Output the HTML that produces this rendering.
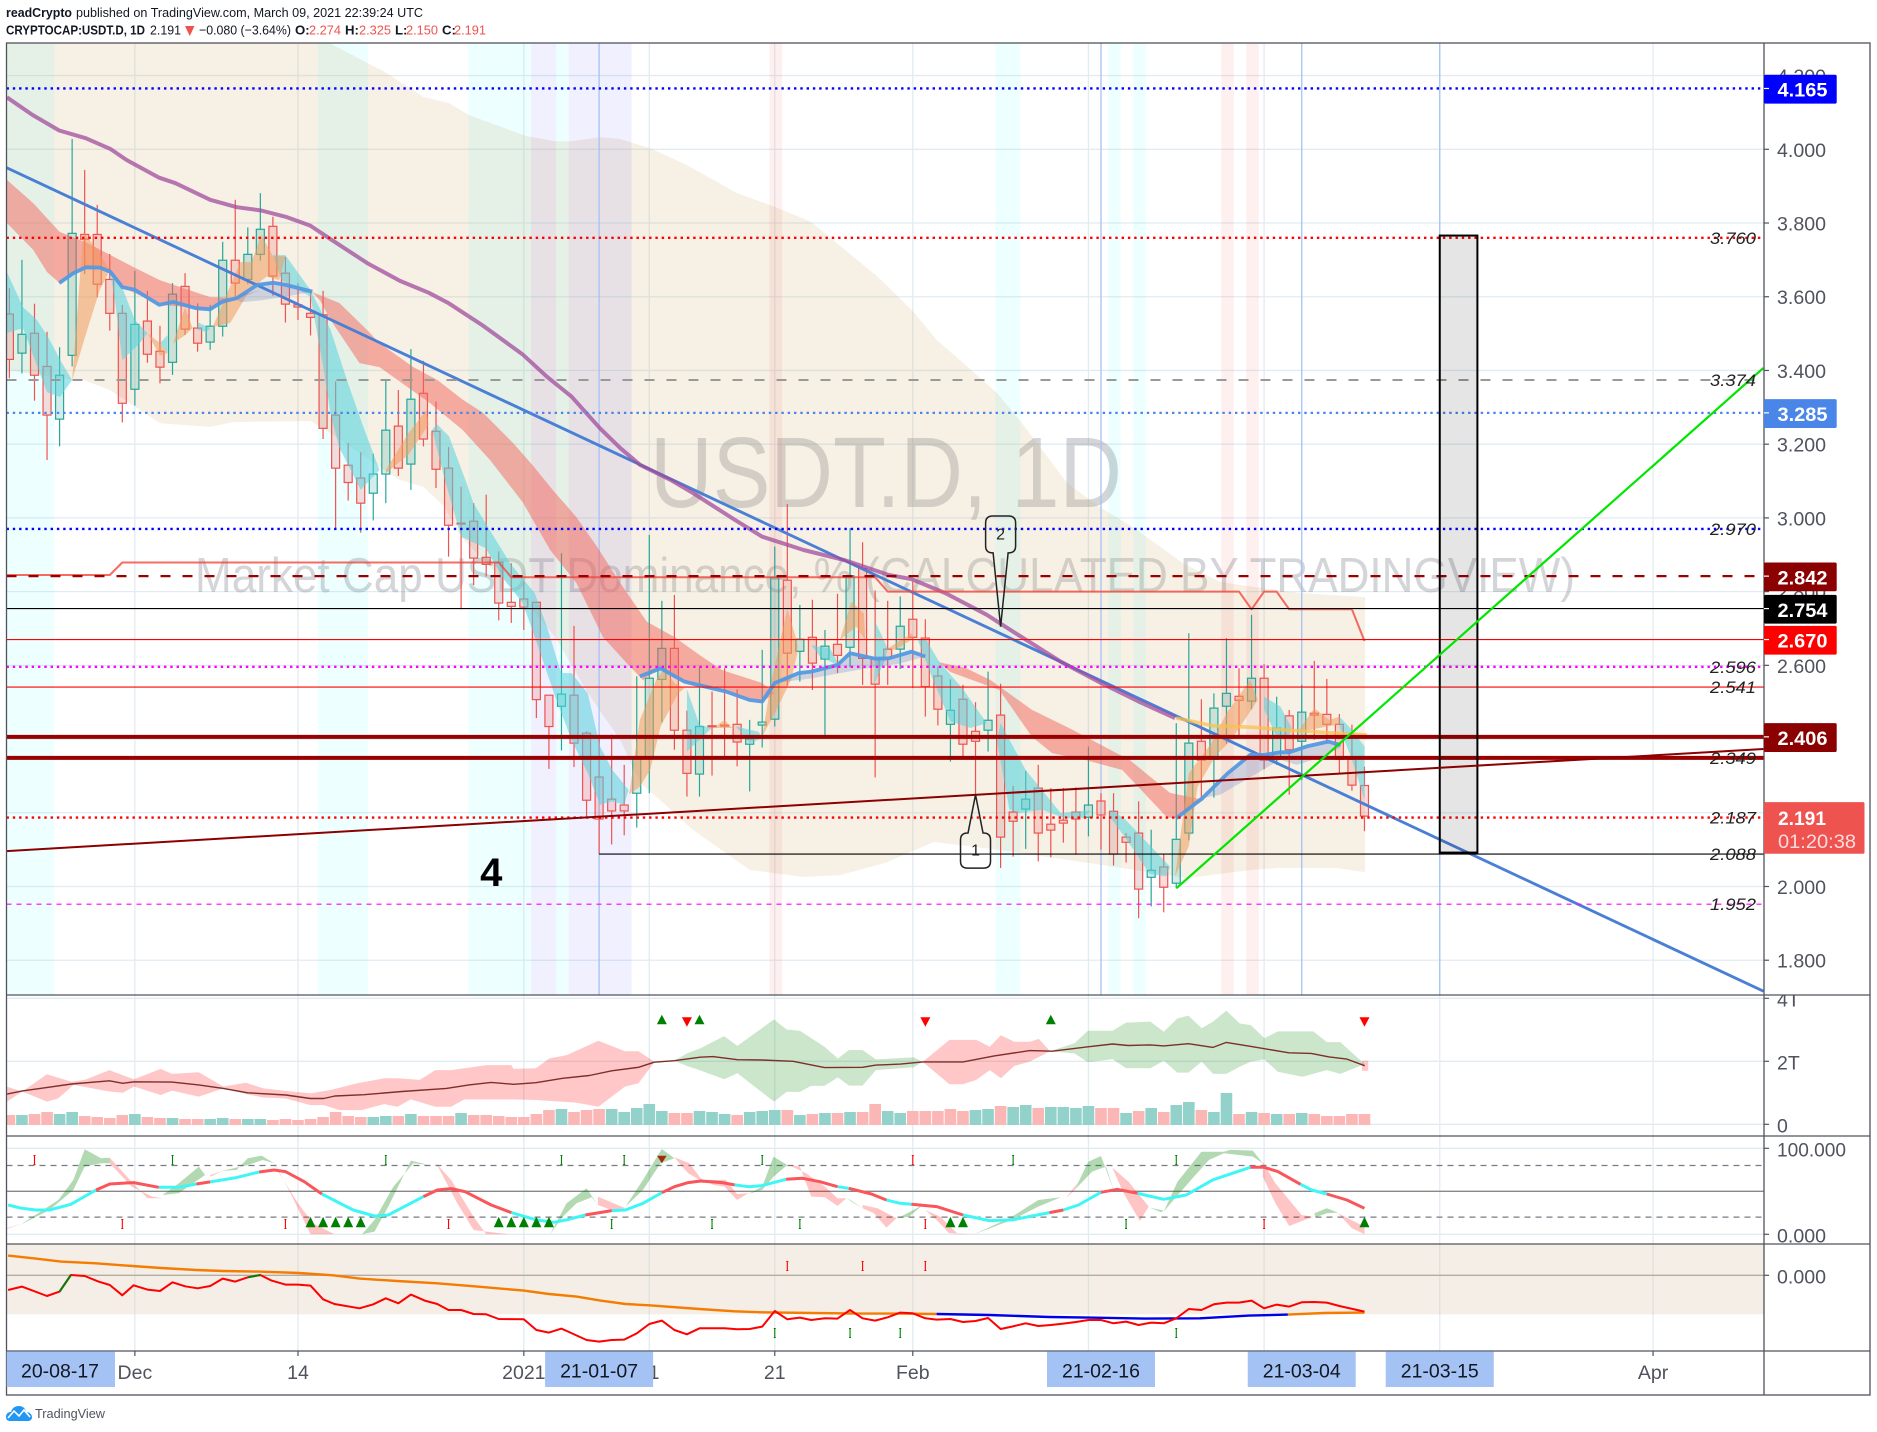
<!DOCTYPE html>
<html lang="en">
<head>
<meta charset="utf-8">
<title>USDT.D 1D chart</title>
<style>
html,body{margin:0;padding:0;background:#fff;}
svg{display:block;font-family:"Liberation Sans",sans-serif;}
</style>
</head>
<body>
<svg id="chart" xmlns="http://www.w3.org/2000/svg" width="1877" height="1432" viewBox="0 0 1877 1432">
  <defs>
    <clipPath id="clipMain"><rect x="6.5" y="43" width="1757.5" height="952"/></clipPath>
    <clipPath id="clipFlow"><rect x="6.5" y="995" width="1757.5" height="141"/></clipPath>
    <clipPath id="clipOsc"><rect x="6.5" y="1136" width="1757.5" height="108"/></clipPath>
    <clipPath id="clipMom"><rect x="6.5" y="1244" width="1757.5" height="107"/></clipPath>
    <clipPath id="clipFlowAxis"><rect x="1764" y="995" width="106" height="141"/></clipPath>
    <clipPath id="clipMainAxis"><rect x="1764" y="43" width="106" height="952"/></clipPath>
  </defs>
  <rect x="0" y="0" width="1877" height="1432" fill="#ffffff"/>

  <g font-size="13.2" fill="#131722">
    <text x="6" y="17" font-weight="700" textLength="66" lengthAdjust="spacingAndGlyphs">readCrypto</text>
    <text x="76" y="17" textLength="347" lengthAdjust="spacingAndGlyphs">published on TradingView.com, March 09, 2021 22:39:24 UTC</text>
    <text x="6" y="34.5" font-weight="700" textLength="139" lengthAdjust="spacingAndGlyphs">CRYPTOCAP:USDT.D, 1D</text>
    <text x="150" y="34.5" textLength="31" lengthAdjust="spacingAndGlyphs">2.191</text>
    <polygon points="185,26 194.5,26 189.8,36" fill="#ef5350"/>
    <text x="199" y="34.5" textLength="92" lengthAdjust="spacingAndGlyphs">−0.080 (−3.64%)</text>
    <text x="295" y="34.5" font-weight="700">O:</text>
    <text x="309" y="34.5" fill="#ef5350" textLength="32" lengthAdjust="spacingAndGlyphs">2.274</text>
    <text x="345" y="34.5" font-weight="700">H:</text>
    <text x="359" y="34.5" fill="#ef5350" textLength="32" lengthAdjust="spacingAndGlyphs">2.325</text>
    <text x="395" y="34.5" font-weight="700">L:</text>
    <text x="406" y="34.5" fill="#ef5350" textLength="32" lengthAdjust="spacingAndGlyphs">2.150</text>
    <text x="442" y="34.5" font-weight="700">C:</text>
    <text x="454" y="34.5" fill="#ef5350" textLength="32" lengthAdjust="spacingAndGlyphs">2.191</text>
  </g>

  <g id="gridLayer"></g>

  <g clip-path="url(#clipMain)">
    <text x="650" y="507" font-size="100" fill="#787b86" fill-opacity="0.32" textLength="472" lengthAdjust="spacingAndGlyphs">USDT.D, 1D</text>
    <text x="195" y="592" font-size="49" fill="#787b86" fill-opacity="0.32" textLength="1380" lengthAdjust="spacingAndGlyphs">Market Cap USDT Dominance, % (CALCULATED BY TRADINGVIEW)</text>
    <g id="cloudLayer"></g>
    <g id="stripLayer"></g>
    <g id="candleLayer"></g>
    <g id="ribbonLayer"></g>
    <g id="lineLayer"></g>
    <g id="levelLayer"></g>
    <g id="drawLayer"></g>
  </g>

  <g clip-path="url(#clipFlow)" id="flowLayer"></g>
  <g clip-path="url(#clipOsc)" id="oscLayer"></g>
  <g clip-path="url(#clipMom)" id="momLayer"></g>

  <g stroke="#50535e" stroke-width="1.3" fill="none">
    <rect x="6.5" y="43" width="1863.5" height="1352"/>
    <line x1="1764" y1="43" x2="1764" y2="1395"/>
    <line x1="6.5" y1="995" x2="1870" y2="995"/>
    <line x1="6.5" y1="1136" x2="1870" y2="1136"/>
    <line x1="6.5" y1="1244" x2="1870" y2="1244"/>
    <line x1="6.5" y1="1351" x2="1870" y2="1351"/>
  </g>

  <g id="axisLayer"></g>

  <g>
    <path d="M6 1417 C6 1413 9 1412 11 1412 C12 1408 15 1406 19 1406 C23 1406 26 1409 26 1412 C29 1412 32 1414 32 1417 C32 1420 30 1421 28 1421 L10 1421 C8 1421 6 1420 6 1417 Z" fill="#2196f3"/>
    <polyline points="8,1418 14,1411 19,1416 24,1410 30,1417" fill="none" stroke="#ffffff" stroke-width="1.6"/>
    <text x="35" y="1418" font-size="13" fill="#50535e" textLength="70" lengthAdjust="spacingAndGlyphs">TradingView</text>
  </g>
</svg>

<script>
/* ---------- candle data (percent dominance) ---------- */
const opens=[3.553,3.447,3.501,3.411,3.268,3.441,3.769,3.769,3.647,3.555,3.349,3.534,3.452,3.422,3.628,3.515,3.477,3.520,3.699,3.647,3.715,3.791,3.664,3.578,3.555,3.551,3.279,3.143,3.108,3.067,3.119,3.249,3.146,3.338,3.235,3.135,2.986,2.991,2.893,2.880,2.771,2.780,2.771,2.519,2.489,2.519,2.416,2.297,2.237,2.221,2.253,2.348,2.562,2.646,2.424,2.305,2.436,2.438,2.440,2.386,2.438,2.454,2.831,2.638,2.676,2.617,2.657,2.649,2.863,2.619,2.644,2.644,2.725,2.674,2.571,2.440,2.508,2.421,2.424,2.465,2.202,2.210,2.267,2.169,2.180,2.202,2.188,2.232,2.204,2.134,2.145,2.025,2.053,2.009,2.145,2.394,2.345,2.489,2.516,2.503,2.565,2.345,2.463,2.394,2.470,2.467,2.440,2.345,2.274];
const highs=[3.623,3.700,3.581,3.505,3.463,4.028,3.944,3.849,3.716,3.578,3.670,3.616,3.521,3.637,3.664,3.582,3.578,3.749,3.863,3.788,3.881,3.817,3.708,3.637,3.611,3.616,3.370,3.203,3.178,3.174,3.374,3.347,3.458,3.426,3.316,3.192,3.085,3.040,3.063,2.909,2.877,2.828,2.773,2.520,2.904,2.707,2.421,2.412,2.412,2.330,2.570,2.954,2.775,2.791,2.477,2.597,2.529,2.592,2.535,2.452,2.642,2.922,3.038,2.764,2.778,2.696,2.794,2.972,2.934,2.803,2.775,2.787,2.827,2.725,2.597,2.562,2.547,2.500,2.583,2.550,2.273,2.314,2.330,2.267,2.267,2.269,2.380,2.253,2.253,2.145,2.231,2.154,2.088,2.443,2.687,2.508,2.524,2.674,2.592,2.737,2.603,2.515,2.479,2.547,2.612,2.563,2.468,2.439,2.325];
const lows=[3.379,3.392,3.318,3.157,3.194,3.411,3.662,3.598,3.508,3.259,3.305,3.421,3.365,3.388,3.497,3.451,3.456,3.492,3.600,3.634,3.698,3.603,3.530,3.537,3.495,3.214,2.968,3.047,2.960,2.993,3.040,3.114,3.076,3.194,3.081,2.895,2.752,2.818,2.841,2.722,2.715,2.696,2.457,2.319,2.369,2.324,2.188,2.089,2.114,2.139,2.160,2.253,2.445,2.371,2.244,2.244,2.301,2.354,2.326,2.258,2.377,2.434,2.544,2.556,2.533,2.407,2.579,2.595,2.547,2.296,2.547,2.590,2.538,2.461,2.437,2.339,2.348,2.249,2.366,2.050,2.081,2.102,2.068,2.079,2.119,2.086,2.136,2.100,2.057,2.065,1.914,1.946,1.930,1.996,2.125,2.240,2.241,2.387,2.402,2.481,2.318,2.330,2.249,2.289,2.398,2.389,2.307,2.260,2.150];
const closes=[3.430,3.498,3.387,3.279,3.387,3.772,3.756,3.634,3.555,3.311,3.525,3.444,3.409,3.607,3.512,3.474,3.520,3.699,3.637,3.715,3.783,3.656,3.580,3.572,3.544,3.243,3.135,3.096,3.040,3.119,3.238,3.135,3.322,3.214,3.132,2.980,2.984,2.891,2.874,2.769,2.760,2.758,2.507,2.434,2.522,2.389,2.234,2.183,2.205,2.205,2.346,2.565,2.646,2.424,2.307,2.434,2.434,2.436,2.392,2.400,2.446,2.838,2.633,2.671,2.606,2.652,2.627,2.843,2.619,2.549,2.622,2.706,2.676,2.542,2.481,2.478,2.386,2.394,2.451,2.134,2.177,2.237,2.145,2.153,2.172,2.183,2.221,2.194,2.088,2.120,1.993,2.044,1.998,2.128,2.389,2.343,2.484,2.524,2.505,2.565,2.343,2.430,2.371,2.473,2.465,2.440,2.345,2.275,2.191];

/* ---------- axis tick data ---------- */
const priceTicks=[4.2,4.0,3.8,3.6,3.4,3.2,3.0,2.8,2.6,2.4,2.2,2.0,1.8];
const timeTickDays=[10,23,41,51,61,72,86,100,114,131];
const timeTickLabels=['Dec','14','2021','11','21','Feb','15','Mar','15','Apr'];
const dateBoxDays=[-0.3,47,87,103,114];
const dateBoxLabels=['20-08-17','21-01-07','21-02-16','21-03-04','21-03-15'];
const flowTicks=[0,2,4];
const flowTickLabels=['0','2T','4T'];
const oscTicks=[0,100];
const momTicks=[0];

/* ---------- horizontal levels ---------- */
const levelPrices=[4.165,3.760,3.374,3.285,2.970,2.842,2.754,2.670,2.596,2.541,2.406,2.349,2.187,1.952];
const floorLevel=2.088;
const floorStartDay=47;
const italicLabels=[3.760,3.374,2.970,2.596,2.541,2.349,2.187,2.088,1.952];
const tagPrices=[4.165,3.285,2.842,2.754,2.670,2.406];
const lastPrice=2.191;
const lastPriceCountdown='01:20:38';

/* ---------- highlight ranges, in days ---------- */
const cyanRanges=[[-0.5,3.5],[24.5,28.5],[36.5,41.5],[43.5,44.5],[78.5,80.5],[87.5,88.5],[89.5,90.5]];
const lavenderRanges=[[41.5,43.5],[44.5,49.5]];
const pinkRanges=[[60.5,61.5],[96.5,97.5],[98.5,99.5]];
const markerDays=[47,87,103,114];

/* ---------- cloud / ribbons [day, price] ---------- */
const cloudUpper=[[-0.2,4.6],[20,4.6],[25.5,4.288],[29.9,4.21],[33,4.142],[35,4.126],[36.6,4.093],[41.2,4.036],[43.5,4.022],[44.8,4.022],[47.1,4.033],[48.67,4.028],[51.06,4.003],[54,3.957],[58,3.881],[60.86,3.846],[63.8,3.805],[65.64,3.754],[69.15,3.656],[72,3.561],[73.9,3.483],[76.3,3.412],[78.7,3.339],[80.5,3.266],[84.3,3.095],[86.9,3.029],[89.55,2.975],[93.5,2.878],[96.5,2.826],[99.4,2.812],[102.9,2.796],[108.05,2.785]];
const cloudLower=[[108.05,2.039],[105.8,2.05],[101,2.05],[99,2.045],[93.85,2.023],[86,2.064],[78.9,2.099],[73.7,2.121],[69.8,2.064],[66.2,2.031],[63.3,2.026],[59,2.045],[54.5,2.153],[51.85,2.235],[50.25,2.281],[48.7,2.397],[46.1,2.525],[43.5,2.677],[41.5,2.758],[36,2.948],[34.7,3.029],[33,3.084],[31.1,3.103],[29.5,3.138],[25.6,3.230],[24,3.263],[17.8,3.260],[16,3.247],[12,3.257],[8,3.347],[5.9,3.374],[5,3.374],[-0.2,3.401]];
const emaBands=[
 [[-0.2,3.917],[1.9,3.854],[4,3.776],[6.2,3.746],[9.85,3.681],[12,3.645],[16,3.599],[17.8,3.597],[20,3.618],[16,3.567],[12,3.578],[9,3.626],[8,3.672],[5.9,3.681],[4,3.637],[3,3.667],[1.9,3.727],[-0.2,3.800]],
 [[24.1,3.613],[26.3,3.583],[28.5,3.510],[29.5,3.474],[32.2,3.409],[34.1,3.374],[36.15,3.320],[37.75,3.285],[40.15,3.203],[41.7,3.143],[43.3,3.076],[45.2,3.002],[46.85,2.921],[48.7,2.823],[50.8,2.718],[53,2.677],[55,2.628],[56.8,2.587],[60,2.552],[61,2.525],[60,2.500],[57.1,2.528],[53.85,2.555],[51.85,2.593],[50.5,2.560],[49.2,2.606],[47.3,2.677],[45.2,2.823],[43.1,2.913],[40.9,3.043],[38.3,3.157],[36.15,3.238],[33.5,3.312],[29.5,3.409],[27.9,3.420],[25.6,3.537],[24.75,3.591]],
 [[74,2.609],[76.2,2.593],[78.2,2.560],[81.5,2.479],[84.45,2.430],[89.3,2.343],[92.5,2.254],[95.2,2.235],[93.1,2.186],[92.3,2.186],[88.7,2.316],[85.8,2.343],[83.1,2.362],[81.5,2.406],[78.9,2.533],[75,2.582]]
];
const tealRibbons=[
 [[-0.2,3.667],[1.08,3.572],[2.2,3.537],[3.08,3.491],[4.19,3.420],[5,3.374],[4.03,3.328],[3,3.341],[1.64,3.464],[1.08,3.515],[-0.2,3.502]],
 [[8,3.672],[9,3.624],[10,3.537],[11,3.501],[10.4,3.474],[9,3.428],[8.4,3.591]],
 [[12,3.474],[12.6,3.496],[12.6,3.447]],
 [[15,3.531],[16,3.515],[15.7,3.504],[15,3.510]],
 [[22,3.713],[24,3.618],[25.6,3.510],[26.9,3.374],[28.2,3.248],[29.5,3.130],[28,3.076],[26.25,3.194],[25.6,3.284],[25,3.411],[24,3.60],[21.7,3.645],[21,3.713]],
 [[34.06,3.255],[35.04,3.221],[36.34,3.103],[36.99,3.040],[37.96,2.985],[39.9,2.877],[41.87,2.796],[42.84,2.705],[43.98,2.579],[44.8,2.579],[46.1,2.524],[47.07,2.380],[48.05,2.317],[49.35,2.262],[49,2.222],[48.05,2.231],[47.07,2.222],[46.1,2.307],[44.8,2.398],[43.5,2.515],[41.87,2.678],[40.9,2.769],[39.26,2.841],[37.96,2.918],[36,2.949],[34.7,3.103],[33.7,3.239]],
 [[54,2.535],[55,2.439],[56,2.430],[54,2.366]],
 [[57.9,2.434],[59.7,2.420],[60,2.402],[59,2.389]],
 [[63.9,2.655],[65.4,2.646],[66.2,2.597],[64.6,2.624]],
 [[69,2.719],[70,2.646],[69.8,2.615],[68.9,2.547],[69,2.624]],
 [[73,2.674],[74.1,2.610],[75.95,2.538],[77.9,2.443],[76.6,2.430],[75,2.448],[73.5,2.570],[72.4,2.669]],
 [[79,2.443],[81,2.316],[83.8,2.199],[85.5,2.205],[86.2,2.205],[85.5,2.185],[84.1,2.185],[82.3,2.208],[80.5,2.199],[79.7,2.208],[78.7,2.398]],
 [[87.8,2.208],[88.96,2.181],[92.5,2.054],[92.2,2.027],[90.9,2.033],[89.6,2.100],[87.7,2.190]],
 [[100,2.515],[101.3,2.488],[102.2,2.430],[101.9,2.402],[101,2.407],[100,2.479]],
 [[106,2.461],[107,2.425],[108,2.380],[108,2.235],[107,2.344],[106,2.434]]
];
const orangeRibbons=[
 [[5,3.374],[5.9,3.776],[7,3.727],[8,3.672],[7.2,3.618],[6.2,3.510]],
 [[11,3.501],[12,3.474],[12.6,3.447],[12,3.44]],
 [[13.05,3.474],[14,3.572],[14.6,3.515],[14,3.496]],
 [[16.2,3.518],[17.8,3.645],[18.4,3.694],[19.3,3.694],[20.07,3.768],[21,3.71],[22,3.71],[21.5,3.645],[20.5,3.655],[19.2,3.62],[17.6,3.529]],
 [[30,3.130],[31.8,3.230],[33.25,3.293],[33.4,3.252],[31.8,3.171],[30,3.121]],
 [[49.4,2.25],[50.25,2.452],[51.55,2.561],[52.2,2.592],[53,2.552],[53.8,2.538],[53.3,2.524],[51.9,2.434],[51.07,2.316],[50.25,2.271]],
 [[56.1,2.430],[57,2.452],[57.6,2.430]],
 [[60,2.407],[60.7,2.552],[62,2.755],[62.8,2.660],[62.8,2.633],[62.3,2.561],[61,2.470]],
 [[66.2,2.669],[67.1,2.773],[68.1,2.741],[68.2,2.669],[67.5,2.705]],
 [[70,2.646],[71.9,2.687],[72.1,2.674],[70.6,2.642]],
 [[92.9,2.027],[94,2.307],[95.8,2.389],[97,2.470],[98.9,2.561],[99.5,2.506],[97.4,2.398],[96.1,2.353],[94.7,2.271],[94,2.109]],
 [[102.8,2.425],[104,2.484],[105.2,2.452],[106,2.461],[106,2.440],[102.8,2.420]]
];
const waveFills=[
 [[18.1,3.596],[19.75,3.632],[21.05,3.638],[22.02,3.632],[24.14,3.614],[22,3.60],[20,3.59],[18.4,3.585]],
 [[61,2.552],[62.9,2.579],[63.9,2.583],[66,2.601],[67,2.633],[69,2.618],[70.1,2.619],[71.9,2.637],[73,2.624],[71,2.605],[68,2.59],[64,2.565]],
 [[95.1,2.240],[97.1,2.307],[98.9,2.357],[100,2.357],[101.3,2.364],[102,2.364],[103.4,2.380],[105.1,2.393],[106.1,2.384],[106,2.375],[104.3,2.348],[102.6,2.33],[101.3,2.344],[96.5,2.249]]
];

/* ---------- moving averages [day, price] ---------- */
const slowMA=[[-0.2,4.141],[1.85,4.093],[3.97,4.051],[6.08,4.030],[8.04,4.001],[9.34,3.971],[11.94,3.923],[13.24,3.908],[16,3.863],[18.12,3.843],[20.07,3.834],[22.02,3.817],[23.98,3.793],[25.6,3.756],[28.53,3.691],[31.13,3.643],[33.41,3.611],[35.04,3.582],[37.64,3.524],[40.89,3.444],[42.84,3.383],[44.8,3.329],[47.07,3.243],[48.7,3.189],[50.26,3.144],[52.7,3.103],[54.5,3.067],[57.8,2.995],[60,2.949],[63.3,2.913],[66.5,2.886],[70.1,2.845],[71.9,2.834],[74.6,2.796],[77.9,2.737],[80.2,2.687],[83.8,2.610],[87,2.552],[90,2.502],[92.9,2.457]];
const slowMAEnd=[[93,2.457],[95.9,2.436],[99.2,2.432],[101.4,2.425],[108.2,2.411]];
const waveRuns=[
 [[3.97,3.637],[5.11,3.664],[6.08,3.680],[7.22,3.679],[8.04,3.668],[9.01,3.626],[9.99,3.619],[11.94,3.578],[13.08,3.586],[14.87,3.569],[16,3.566],[16.98,3.587],[18.12,3.596],[19.75,3.632],[21.05,3.638],[22.02,3.632],[24.14,3.614]],
 [[50.25,2.570],[51.9,2.592],[53.8,2.556],[57.1,2.529],[59,2.506],[60,2.502],[61,2.552],[62.9,2.579],[63.9,2.583],[66,2.601],[67,2.633],[69,2.618],[70.1,2.619],[71.9,2.637],[73,2.624]],
 [[93,2.185],[95.1,2.240],[97.1,2.307],[98.9,2.357],[100,2.357],[101.3,2.364],[102,2.364],[103.4,2.380],[105.1,2.393],[106.1,2.384]]
];
const stepLine=[[-0.2,2.845],[8,2.845],[9,2.879],[39,2.879],[40,2.839],[69,2.839],[70,2.800],[98,2.800],[99,2.752],[100,2.800],[101,2.800],[102,2.752],[107,2.752],[108,2.666]];

/* ---------- drawings ---------- */
const blueTrend=[[-0.23,3.950],[139.8,1.716]];
const redTrend=[[-0.23,2.096],[139.8,2.373]];
const greenTrend=[[93,1.995],[139.8,3.407]];
const rangeBoxDays=[114,117];
const rangeBoxPrices=[3.766,2.092];
const calloutDays=[77,79];
const calloutTipPrices=[2.249,2.705];
const calloutBoxTops=[2.145,3.005];
const calloutBoxBottoms=[2.05,2.905];
const calloutTexts=['1','2'];
const waveCountDay=38.4;
const waveCountPrice=2.0;

/* ---------- volume pane (trillions) ---------- */
const volumes=[.317,.317,.349,.413,.349,.413,.286,.254,.222,.317,.349,.254,.222,.222,.190,.190,.190,.222,.190,.190,.190,.159,.190,.159,.190,.254,.413,.286,.254,.254,.286,.286,.349,.286,.286,.286,.381,.317,.317,.286,.254,.254,.349,.476,.508,.413,.476,.508,.508,.413,.540,.667,.444,.381,.381,.444,.413,.349,.317,.413,.444,.476,.476,.317,.349,.381,.381,.413,.413,.667,.444,.381,.444,.444,.444,.508,.444,.476,.508,.603,.571,.635,.540,.571,.571,.540,.603,.540,.540,.381,.444,.540,.413,.635,.730,.476,.413,1.016,.349,.413,.381,.349,.349,.381,.349,.286,.286,.349,.349];
const volumeUp=[0,1,0,0,1,1,0,0,0,0,1,0,0,1,0,0,1,1,0,1,1,0,0,0,0,0,0,0,0,1,1,0,1,0,0,0,1,0,0,0,0,0,0,0,1,0,0,0,1,1,1,1,1,0,0,1,1,1,0,1,1,1,0,1,0,1,0,1,0,0,1,1,0,0,0,0,0,1,1,0,1,1,0,1,1,1,1,0,0,1,0,1,0,1,1,0,1,1,0,1,0,1,0,1,0,0,0,0,0];
const flowCenter=[[-.18,.96],[1.03,1.06],[2.81,1.16],[4.95,1.28],[7.97,1.38],[9.04,1.30],[9.93,1.35],[12.95,1.34],[15.09,1.25],[17.05,1.14],[19,1.00],[22.03,.93],[23.99,.82],[25.05,.82],[25.94,.90],[28.26,.94],[31.28,1.04],[34.84,1.14],[36.62,1.25],[38.4,1.33],[40.18,1.27],[41.96,1.32],[44.09,1.46],[46.23,1.55],[48,1.70],[50.14,1.81],[51.39,1.97],[52.99,2.02],[55.06,2.13],[56.07,2.15],[58.02,2.05],[59.98,2.04],[62.47,2.00],[64.96,1.80],[67.99,1.81],[69.06,1.88],[71.01,1.91],[72.79,1.98],[76,1.98],[78.49,2.17],[81.33,2.34],[83.11,2.32],[85.96,2.46],[87.92,2.55],[89.16,2.50],[90.94,2.52],[92.01,2.49],[93.97,2.56],[95.93,2.44],[96.99,2.60],[99.13,2.46],[101.98,2.27],[103.75,2.25],[105.18,2.14],[106.6,2.07],[108.02,1.86]];
const flowBearUpper=[[[-.18,1.19],[1.03,1.04],[2.99,1.59],[4.95,1.35],[6.01,1.41],[7.97,1.72],[9.04,1.56],[9.93,1.43],[12.06,1.76],[12.95,1.60],[15.09,1.65],[17.05,1.20],[18.83,1.32],[20.25,1.14],[22.03,1.06],[23.99,.98],[25.59,1.09],[27.72,1.30],[29.86,1.46],[30.93,1.46],[32.7,1.41],[33.95,1.72],[35.2,1.72],[38.04,1.88],[40,1.88],[40.18,1.76],[41.96,1.78],[43.03,2.09],[44.45,2.20],[46.94,2.65],[49.07,2.32],[50.14,2.32],[51.39,1.99],[52.99,2.02]],
 [[72.79,1.98],[74.93,2.68],[77.06,2.68],[78.13,2.46],[79.02,2.83],[80.09,2.62],[81.33,2.62],[82.05,2.71],[82.94,2.32]]];
const flowBearLower=[[[52.99,2.02],[51.39,1.97],[50.14,1.30],[49.07,1.20],[46.94,.56],[45.16,.69],[41.96,.77],[40,.79],[36.26,.79],[35.2,.56],[33.95,.56],[31.99,.79],[30.93,.56],[29.86,.64],[28.08,.45],[26.3,.45],[25.05,.61],[23.99,.61],[22.03,.82],[20.25,.85],[18.83,.96],[17.05,1.14],[15.09,.88],[12.95,1.07],[12.06,.93],[9.93,1.20],[9.04,1.00],[7.97,1.04],[5.12,1.25],[3.88,.82],[2.99,.72],[1.03,1.04],[-.18,.72]],
 [[82.94,2.32],[81.33,1.99],[80.09,1.85],[79.02,1.46],[78.13,1.72],[77.06,1.41],[76,1.27],[74.93,1.27],[72.79,1.98]]];
const flowBullUpper=[[[52.99,2.02],[54,2.25],[55,2.40],[56.96,2.80],[58.02,2.49],[60.94,3.33],[61.94,3.01],[63,2.97],[64.96,2.46],[66.03,2.09],[66.92,2.36],[67.99,2.36],[69.06,2.06],[72.08,2.13],[72.79,1.98]],
 [[82.94,2.32],[84.89,2.57],[85.96,2.97],[87.92,2.97],[88.99,3.23],[90.94,3.26],[92.01,2.94],[93.08,3.36],[93.97,3.45],[95.03,3.05],[95.93,3.26],[96.99,3.61],[98.06,3.20],[98.95,3.15],[100.02,2.73],[101.09,2.95],[103.93,2.95],[105,2.61],[106.07,2.61],[108.02,1.91]]];
const flowBullLower=[[[72.79,1.98],[72.08,1.81],[69.06,1.72],[67.99,1.23],[66.92,1.23],[66.03,1.49],[64.96,1.22],[63.9,1.22],[63,1.03],[61.94,1.03],[60.94,.72],[58.02,1.62],[56.96,1.43],[55,1.72],[54,1.85],[52.99,2.02]],
 [[108.02,1.91],[106.07,1.60],[105,1.72],[103.05,1.51],[101.09,1.67],[100.02,2.06],[98.95,1.99],[98.06,1.83],[96.99,1.60],[95.93,1.60],[95.03,1.99],[93.97,1.64],[93.08,1.64],[92.01,2.02],[90.94,1.78],[88.99,1.78],[87.92,2.07],[85.96,1.97],[84.89,2.25],[82.94,2.32]]];
const flowBuySignals=[52,55,83];
const flowSellSignals=[54,73,108];
const flowEndBar=[[107.8,2.02],[108.3,2.02],[108.3,1.70],[107.8,1.70]];

/* ---------- oscillator pane (0-100) ---------- */
const oscGuides=[20,80];
const oscMid=50;
const oscBullRuns=[
 [[-.1,34.1],[1,30.2],[2.1,28.3],[3.2,28.3],[4.9,34.9],[6.9,51.5]],
 [[11.9,54.7],[13.5,54.7],[14.9,58.5]],
 [[16,60.9],[18.1,65.9],[19.9,72.5]],
 [[24.9,46.9],[27.4,28.3],[29.1,21.3],[30.2,22.5],[33,43.8]],
 [[40,25.2],[42,16.7],[43.4,14],[44.4,16.7],[45.9,22.5]],
 [[48,27.5],[49.1,28.3],[50.5,36],[52,48.4]],
 [[57.8,57.4],[58.9,55.4],[60,56.6],[61.9,64]],
 [[66,55.4],[66.9,53.5]],
 [[69.9,39.9],[71,36],[71.9,34.9]],
 [[76,22.5],[78.1,15.9],[79.9,16.7],[82.9,25.2]],
 [[84,28.3],[85.2,34.1],[87,48.8]],
 [[89.9,47.7],[92,40.7],[93.8,45.7],[95.9,63.2],[98.9,77.9]],
 [[102.9,58.1],[103.8,51.5],[105,46.9]]
];
const oscBearRuns=[
 [[6.9,51.5],[8,58.5],[9.9,60.1],[11.9,54.7]],
 [[14.9,58.5],[16,60.9]],
 [[19.9,72.5],[21.1,74.8],[22,72.9],[23.5,61.2],[24.9,46.9]],
 [[33,43.8],[34.1,51.5],[35.2,53.1],[36.3,49.6],[38.4,34.1],[40,25.2]],
 [[45.9,22.5],[48,27.5]],
 [[52,48.4],[53,55.4],[54.1,60.1],[55.1,62],[56.8,60.1],[57.8,57.4]],
 [[61.9,64],[63.2,65.1],[64.6,61.2],[66,55.4]],
 [[66.9,53.5],[68.7,46.9],[69.9,39.9]],
 [[71.9,34.9],[73.9,32.2],[76,22.5]],
 [[82.9,25.2],[84,28.3]],
 [[87,48.8],[88.3,52.3],[89.9,47.7]],
 [[98.9,77.9],[100,77.9],[101.1,72.9],[102.9,58.1]],
 [[105,46.9],[106.6,39.9],[108,30.2]]
];
const oscGreenRibbons=[
 [[.85,10.9],[3.9,39.9],[5.1,63.2],[6,98.8],[7.3,88.4],[8,89.1],[8,82.6],[7.3,82.6],[6,78.7],[5.1,51.6],[3.2,28.3]],
 [[12.2,45.7],[13.5,59.3],[15.1,78.7],[15.6,69],[13.5,47.7]],
 [[16.9,73.6],[18.1,74.8],[19,88.4],[20.1,91.5],[21.1,82.6],[20.2,86.4],[19,80.6]],
 [[28.1,0],[29.1,3.1],[30.2,32.2],[32,85.7],[33.4,80.6],[32.2,82.6],[30.6,55.4],[29.1,16.7]],
 [[43.1,0],[44.4,36],[46,53.5],[46.8,36],[46.4,43],[45.2,36],[44.1,20.5]],
 [[49.1,32.2],[50.5,63.2],[52,99.2],[53,88.4],[51.9,82.6],[50.5,51.6]],
 [[58.9,46.9],[60,55.4],[60.9,90.3],[62,80.6],[60.9,67],[60,51.6]],
 [[66.7,43],[68,30.2],[67.1,38]],
 [[70.8,18.6],[72.8,34.1],[71.7,20.5]],
 [[76.9,0],[79.9,20.5],[82,39.9],[83.8,43],[82,32.2],[79.9,16.7]],
 [[84.9,51.6],[86,84.5],[87,91.1],[88.1,47.7],[87.4,78.7],[86.3,72.9]],
 [[90.9,31],[92,27.5],[91.8,25.6]],
 [[92,26.4],[93.1,61.2],[95,96.1],[96.8,96.1],[97.3,98.1],[99.1,97.3],[99.9,82.6],[99.1,90.3],[96.8,94.2],[95.6,86.4],[94.3,65.1],[92.9,41.9]],
 [[104,24.4],[105,30.2],[105.9,25.2],[105,24.4],[104.1,19.8]]
];
const oscRedRibbons=[
 [[-.2,7],[1,12.8],[-.2,6]],
 [[8,89.1],[9.6,63.2],[11,41.9],[12.2,41.9],[11.4,43.8],[9.75,55.4],[8,82.6]],
 [[16,69],[17,73.6],[16,67]],
 [[21,86.4],[22.4,47.7],[24,0],[25.9,0],[24.2,12.8],[23,36],[21.5,70.9]],
 [[34,82.6],[35.2,63.2],[37,20.5],[38,0],[39.8,0],[37,5],[35.7,36],[34.3,74.8]],
 [[46.9,43.8],[49.1,30.2],[48,28.3],[46.9,34.1]],
 [[53,89.5],[54.2,82.6],[55.1,65.1],[56.1,57.4],[57,55.4],[58,39.9],[58.9,47.7],[58,46.9],[57.1,63.2],[55,63.2],[54.1,70.9],[53.5,80.6]],
 [[62.1,80.6],[63,78.7],[63.9,43.8],[65,43],[66,32.9],[66.7,41.9],[66,41.9],[65,55.4],[63.5,70.9]],
 [[68,34.1],[69.2,30.2],[70.7,18.6],[69.9,7.8],[68.9,24.4],[68,30.2]],
 [[73,28.3],[74.2,20.5],[75.6,0],[76.7,0],[74.9,1.2],[73.9,16.7]],
 [[84.2,41.9],[85.1,59.3],[84.9,51.6]],
 [[87.9,77.5],[89.2,61.2],[90.8,32.2],[90.1,15.5],[88.8,47.7]],
 [[99.9,84.5],[100.9,59.3],[102,39.9],[103,22.5],[103.9,20.5],[102,9.7],[100.9,36],[99.9,67]],
 [[105.9,24.4],[108,8.9],[108,0],[107,7]]
];
const oscBuyTriangles=[24,25,26,27,28,39,40,41,42,43,75,76,108];
const oscSellTriangles=[52];
const oscTopBullTicks=[13,30,44,49,60,80,93];
const oscTopBearTicks=[2,72];
const oscBottomBullTicks=[48,56,63,89];
const oscBottomBearTicks=[9,22,35,73,100];

/* ---------- momentum pane (thousandths) ---------- */
const momBandLimits=[31,-39];
const momFast=[[-.1,-14.7],[1,-11.3],[3,-20.7],[4,-16.3],[4.9,.3],[6,-.7],[7.1,-6.3],[8,-9.7],[9,-20],[9.9,-10],[11,-14.3],[12,-15.7],[13,-7],[14,-11],[15,-13],[16,-10.7],[17,-3.3],[18,-6.3],[19,-2],[20,.3],[20.9,-5.3],[22,-9.3],[23,-9.3],[24,-10.3],[25,-24],[25.9,-28.7],[27.9,-33],[29,-29],[30,-23],[31,-28],[32,-19.3],[33.1,-25.3],[34.1,-28.7],[35,-34.7],[36,-34.7],[37,-38.7],[38,-39],[39,-43.7],[41,-44],[42,-54.7],[43,-57.3],[44,-53.3],[46,-64.7],[47,-66.3],[48,-64.7],[49,-64.3],[50,-58],[51,-48.7],[52,-45.3],[53,-54.7],[54,-59],[55,-53],[57,-53],[58,-54],[59,-53.7],[60,-51.3],[61,-35.7],[62,-44],[63,-42.3],[63.9,-44.7],[65,-43],[66,-43.3],[67,-34.7],[68,-43],[69,-45.3],[70,-42],[71,-37.3],[72,-38],[73,-43],[73.9,-44.3],[75,-43.7],[76,-46.7],[77,-45.7],[78,-42.7],[79,-53.7],[79.9,-51.3],[81,-48],[82,-50.7],[83,-49.7],[84,-48.3],[85,-46.7],[86,-44.7],[87,-44.7],[88,-48],[89,-46.3],[90,-49.7],[91,-47.3],[92,-48],[93,-43],[94,-33.7],[95,-34.7],[96,-29],[97,-27.3],[98,-27.3],[99,-25.3],[100,-33],[101,-29.3],[102,-31.3],[103,-27],[104,-26.7],[105,-27.3],[106,-30.7],[108,-36.3]];
const momFastBullRuns=[[[4,-16.3],[4.9,.3]],[[19,-2],[20,.3]]];
const momSlowOrangeA=[[-.1,19.7],[2.1,16.7],[4.1,13.7],[6.9,12],[9,10],[12.1,7.3],[14.9,5.3],[17,4.3],[19.9,3.7],[23.1,2.3],[25.8,0],[27.9,-3.3],[30.9,-5.7],[34.1,-8],[37.3,-11.3],[41,-15.3],[43,-18.7],[45.2,-21.3],[47.1,-25.3],[49.1,-28.7],[51,-30],[55,-33.7],[57.8,-36],[60,-37],[63.9,-37.7],[67.8,-38.3],[71,-38.3],[73.9,-38.7]];
const momSlowBlue=[[73.9,-38.7],[78.1,-39.7],[82.9,-41.7],[86,-42.3],[90.6,-43.3],[94.9,-43],[98.8,-40.3],[101.9,-39.3]];
const momSlowOrangeB=[[101.9,-39.3],[104.8,-37.7],[108,-37.3]];
const momTopTicks=[62,68,73];
const momBottomTicks=[61,67,71,93];

/* ---------- axis functions ---------- */
const DAY0=9.4, DAYW=12.547;
function xDay(d){return DAY0+DAYW*d;}
function yPrice(p){return 149.3+(4-p)*368.6;}
function yFlow(v){return 1124.3-v*31.5;}
function yOsc(v){return 1234.3-v*0.86;}
function yMom(v){return 1275.3-v;}

const NS='http://www.w3.org/2000/svg';
function add(parent,tag,attrs,text){
  const el=document.createElementNS(NS,tag);
  for(const k in attrs){el.setAttribute(k,attrs[k]);}
  if(text!==undefined){el.textContent=text;}
  parent.appendChild(el);
  return el;
}
function pts(list,yf){return list.map(function(p){return xDay(p[0]).toFixed(1)+','+yf(p[1]).toFixed(1);}).join(' ');}
function byId(id){return document.getElementById(id);}

/* ---------- grid ---------- */
const gridG=byId('gridLayer');
const gridColor='#e1ecf2';
timeTickDays.forEach(function(d){
  const el=add(gridG,'line',{x1:xDay(d),x2:xDay(d),y1:43,y2:1351,stroke:gridColor,'stroke-width':1.3});
  
  
});
priceTicks.forEach(function(p){
  const el=add(gridG,'line',{x1:6.5,x2:1764,y1:yPrice(p),y2:yPrice(p),stroke:gridColor,'stroke-width':1.3});
  
  
});
flowTicks.forEach(function(v){
  const el=add(gridG,'line',{x1:6.5,x2:1764,y1:yFlow(v),y2:yFlow(v),stroke:gridColor,'stroke-width':1.3});
  
  
});
oscTicks.forEach(function(v){
  const el=add(gridG,'line',{x1:6.5,x2:1764,y1:yOsc(v),y2:yOsc(v),stroke:gridColor,'stroke-width':1.3});
  
  
});

/* ---------- cloud and strips ---------- */
const cloudPoly=add(byId('cloudLayer'),'polygon',{points:pts(cloudUpper.concat(cloudLower),yPrice),fill:'#d4b27c','fill-opacity':0.2});



const stripG=byId('stripLayer');
function drawStrips(ranges,color,name){
  ranges.forEach(function(r){
    const el=add(stripG,'rect',{x:xDay(r[0])+1,y:43,width:xDay(r[1])-xDay(r[0]),height:952,fill:color});
    
    
  });
}
drawStrips(cyanRanges,'rgba(0,255,255,0.065)','cyan-highlight');
drawStrips(lavenderRanges,'rgba(0,0,255,0.06)','lavender-highlight');
drawStrips(pinkRanges,'rgba(255,0,0,0.06)','pink-highlight');
markerDays.forEach(function(d){
  const el=add(stripG,'line',{x1:xDay(d),x2:xDay(d),y1:43,y2:995,stroke:'#a4c2f4','stroke-width':1.3});
  
  
});

/* ---------- candles ---------- */
const candleG=byId('candleLayer');
opens.forEach(function(o,i){
  const c=closes[i], up=c>=o;
  const col=up?'#26a69a':'#ef5350';
  const fill=up?'rgba(38,166,154,0.2)':'rgba(239,83,80,0.2)';
  const x=xDay(i);
  const top=yPrice(Math.max(o,c)), bot=yPrice(Math.min(o,c));
  const w1=add(candleG,'line',{x1:x,x2:x,y1:yPrice(highs[i]),y2:top,stroke:col,'stroke-width':1.2});
  
  
  const w2=add(candleG,'line',{x1:x,x2:x,y1:bot,y2:yPrice(lows[i]),stroke:col,'stroke-width':1.2});
  
  
  const b=add(candleG,'rect',{x:x-4,y:top,width:8,height:Math.max(bot-top,1),fill:fill,stroke:col,'stroke-width':1.2});
  
  
});

/* ---------- ribbons ---------- */
const ribbonG=byId('ribbonLayer');
function drawRibbons(parent,list,yf,fill,opacity,name){
  list.forEach(function(r){
    const el=add(parent,'polygon',{points:pts(r,yf),fill:fill,'fill-opacity':opacity});
    
    
  });
}
drawRibbons(ribbonG,emaBands,yPrice,'#f4645a',0.5,'ema-band');
drawRibbons(ribbonG,tealRibbons,yPrice,'#55d2dc',0.55,'falling-ribbon');
drawRibbons(ribbonG,orangeRibbons,yPrice,'#f09a5c',0.55,'rising-ribbon');
drawRibbons(ribbonG,waveFills,yPrice,'#6482c8',0.27,'wave-fill');

/* ---------- lines ---------- */
function drawLine(parent,list,yf,color,width,name,opacity){
  const el=add(parent,'polyline',{points:pts(list,yf),fill:'none',stroke:color,'stroke-width':width,'stroke-linejoin':'round','stroke-opacity':opacity===undefined?1:opacity});
  
  
  return el;
}
const lineG=byId('lineLayer');
drawLine(lineG,blueTrend,yPrice,'#4a7fd6',2.9,'blue-trendline');
drawLine(lineG,slowMA,yPrice,'#a04c9c',4,'purple-moving-average',0.75);
drawLine(lineG,slowMAEnd,yPrice,'#f9c04f',3.6,'orange-moving-average',0.75);
waveRuns.forEach(function(r){
  drawLine(lineG,r,yPrice,'#5499e2',3.8,'blue-fast-average',0.95);
});
drawLine(lineG,stepLine,yPrice,'#f4473c',2,'red-step-line',0.8);

/* ---------- levels ---------- */
const levelG=byId('levelLayer');
const levelStyles=[
 {c:'#0000ff',w:2.4,d:'2.4 3.9'},{c:'#ff0000',w:2.4,d:'2.4 3.9'},{c:'#999999',w:2,d:'10 12'},
 {c:'#4a86e8',w:2.2,d:'2.4 3.9'},{c:'#0000ff',w:2.4,d:'2.4 3.9'},{c:'#990000',w:2.2,d:'10 12'},
 {c:'#000000',w:1.2,d:''},{c:'#ff0000',w:1.2,d:''},{c:'#ff00ff',w:2.4,d:'2.4 3.9'},
 {c:'#ff0000',w:1.2,d:''},{c:'#990000',w:4,d:''},{c:'#990000',w:4,d:''},
 {c:'#ff0000',w:2.4,d:'2.4 3.9'},{c:'#ff00ff',w:1.2,d:'5 5'}
];
levelPrices.forEach(function(p,i){
  const s=levelStyles[i];
  const el=add(levelG,'line',{x1:6.5,x2:1764,y1:yPrice(p),y2:yPrice(p),stroke:s.c,'stroke-width':s.w,'stroke-dasharray':s.d});
  
  
});
const floorLine=add(levelG,'line',{x1:xDay(floorStartDay),x2:1764,y1:yPrice(floorLevel),y2:yPrice(floorLevel),stroke:'#000000','stroke-width':1.2});



/* ---------- drawings ---------- */
const drawG=byId('drawLayer');
const rangeBox=add(drawG,'rect',{x:xDay(rangeBoxDays[0]),y:yPrice(rangeBoxPrices[0]),width:xDay(rangeBoxDays[1])-xDay(rangeBoxDays[0]),height:yPrice(rangeBoxPrices[1])-yPrice(rangeBoxPrices[0]),fill:'rgba(0,0,0,0.1)',stroke:'#000000','stroke-width':2});


const tl1=drawLine(drawG,redTrend,yPrice,'#8b0000',2,'red-support-trendline');

const tl2=drawLine(drawG,greenTrend,yPrice,'#00e600',2.2,'green-trendline');

calloutDays.forEach(function(d,i){
  const cx=xDay(d), tip=yPrice(calloutTipPrices[i]), t=yPrice(calloutBoxTops[i]), b=yPrice(calloutBoxBottoms[i]);
  const hw=15, r=7, base=7.5;
  /* base edge is the box side nearest the tip; far edge is the opposite side */
  const near=tip<t?t:b, far=tip<t?b:t, s=tip<t?1:-1;
  const path='M'+(cx-base)+' '+near+' L'+cx+' '+tip+' L'+(cx+base)+' '+near+' L'+(cx+hw-r)+' '+near+' Q'+(cx+hw)+' '+near+' '+(cx+hw)+' '+(near+s*r)+' L'+(cx+hw)+' '+(far-s*r)+' Q'+(cx+hw)+' '+far+' '+(cx+hw-r)+' '+far+' L'+(cx-hw+r)+' '+far+' Q'+(cx-hw)+' '+far+' '+(cx-hw)+' '+(far-s*r)+' L'+(cx-hw)+' '+(near+s*r)+' Q'+(cx-hw)+' '+near+' '+(cx-hw+r)+' '+near+' Z';
  const el=add(drawG,'path',{d:path,fill:'rgba(255,255,255,0.08)',stroke:'#222222','stroke-width':1.5});
  
  
  const tx=add(drawG,'text',{x:cx,y:(t+b)/2+5,'font-size':16,fill:'#222222','text-anchor':'middle'},calloutTexts[i]);
  
  
});
const waveCount=add(drawG,'text',{x:xDay(waveCountDay),y:yPrice(waveCountPrice)-0.5,'font-size':40,'font-weight':700,fill:'#000000','text-anchor':'middle'},'4');



/* ---------- flow pane ---------- */
const flowG=byId('flowLayer');
volumes.forEach(function(v,i){
  const el=add(flowG,'rect',{x:xDay(i)-5.8,y:yFlow(v)+0.7,width:11.6,height:v*31.5,fill:volumeUp[i]?'#93d2cb':'#fbb6b6'});
  
  
});
flowBearUpper.forEach(function(u,i){
  const el=add(flowG,'polygon',{points:pts(u.concat(flowBearLower[i]),yFlow),fill:'rgba(255,0,0,0.22)'});
  
  
});
flowBullUpper.forEach(function(u,i){
  const el=add(flowG,'polygon',{points:pts(u.concat(flowBullLower[i]),yFlow),fill:'rgba(0,128,0,0.2)'});
  
  
});
const flowEnd=add(flowG,'polygon',{points:pts(flowEndBar,yFlow),fill:'rgba(255,0,0,0.22)'});


drawLine(flowG,flowCenter,yFlow,'#7d2f2a',1.4,'flow-center-line');
function triUp(parent,d,cy,hw,h,color,name){
  const x=xDay(d);
  const el=add(parent,'polygon',{points:(x-hw)+','+(cy+h/2)+' '+(x+hw)+','+(cy+h/2)+' '+x+','+(cy-h/2),fill:color});
  
  
}
function triDown(parent,d,cy,hw,h,color,name){
  const x=xDay(d);
  const el=add(parent,'polygon',{points:(x-hw)+','+(cy-h/2)+' '+(x+hw)+','+(cy-h/2)+' '+x+','+(cy+h/2),fill:color});
  
  
}
flowBuySignals.forEach(function(d){triUp(flowG,d,1019.5,5,9.5,'#008000','flow-buy-signal');});
flowSellSignals.forEach(function(d){triDown(flowG,d,1022,5,9.5,'#ff0000','flow-sell-signal');});

/* ---------- oscillator pane ---------- */
const oscG=byId('oscLayer');
oscGuides.forEach(function(v){
  const el=add(oscG,'line',{x1:6.5,x2:1764,y1:yOsc(v),y2:yOsc(v),stroke:'#787b86','stroke-width':1.2,'stroke-dasharray':'6 5'});
  
  
});
const midLine=add(oscG,'line',{x1:6.5,x2:1764,y1:yOsc(oscMid),y2:yOsc(oscMid),stroke:'#888888','stroke-width':1.3});


drawRibbons(oscG,oscGreenRibbons,yOsc,'#008000',0.3,'oscillator-green-ribbon');
drawRibbons(oscG,oscRedRibbons,yOsc,'#ff0000',0.23,'oscillator-red-ribbon');
oscBullRuns.forEach(function(r){drawLine(oscG,r,yOsc,'#3ff6f6',3,'oscillator-rising-line');});
oscBearRuns.forEach(function(r){drawLine(oscG,r,yOsc,'#f9555a',3,'oscillator-falling-line');});
oscBuyTriangles.forEach(function(d){triUp(oscG,d,1222,5,10.5,'#008000','oscillator-buy-triangle');});
oscSellTriangles.forEach(function(d){triDown(oscG,d,1159.5,4.8,7.5,'#a32c10','oscillator-sell-triangle');});
function tickMark(parent,d,cy,color,name){
  const x=xDay(d);
  const el=add(parent,'path',{d:'M'+(x-1)+' '+(cy-4.5)+' H'+(x+1)+' M'+x+' '+(cy-4.5)+' V'+(cy+4.5)+' M'+(x-1)+' '+(cy+4.5)+' H'+(x+1),fill:'none',stroke:color,'stroke-width':1.1});
  
  
}
oscTopBullTicks.forEach(function(d){tickMark(oscG,d,1160,'#008000','oscillator-bull-tick');});
oscTopBearTicks.forEach(function(d){tickMark(oscG,d,1160,'#ff0000','oscillator-bear-tick');});
oscBottomBullTicks.forEach(function(d){tickMark(oscG,d,1224,'#008000','oscillator-bull-tick');});
oscBottomBearTicks.forEach(function(d){tickMark(oscG,d,1224,'#ff0000','oscillator-bear-tick');});

/* ---------- momentum pane ---------- */
const momG=byId('momLayer');
const momBand=add(momG,'rect',{x:6.5,y:yMom(momBandLimits[0]),width:1757.5,height:yMom(momBandLimits[1])-yMom(momBandLimits[0]),fill:'#d9c8ac','fill-opacity':0.3});


const momZero=add(momG,'line',{x1:6.5,x2:1764,y1:yMom(0),y2:yMom(0),stroke:'#b5aca0','stroke-width':1.3});


drawLine(momG,momSlowOrangeA,yMom,'#f57c00',2.4,'momentum-slow-line');
drawLine(momG,momSlowBlue,yMom,'#0000e6',2.4,'momentum-slow-line-bear');
drawLine(momG,momSlowOrangeB,yMom,'#f57c00',2.4,'momentum-slow-line');
drawLine(momG,momFast,yMom,'#ff0000',2,'momentum-fast-line');
momFastBullRuns.forEach(function(r){drawLine(momG,r,yMom,'#0a7a0a',2,'momentum-fast-line-bull');});
momTopTicks.forEach(function(d){tickMark(momG,d,1266,'#ff0000','momentum-bear-tick');});
momBottomTicks.forEach(function(d){tickMark(momG,d,1333,'#008000','momentum-bull-tick');});

/* ---------- axes ---------- */
const axisG=byId('axisLayer');
const axisColor='#50535e';
const mainAxisClip=add(axisG,'g',{'clip-path':'url(#clipMainAxis)'});


priceTicks.forEach(function(p){
  const t=add(mainAxisClip,'line',{x1:1764,x2:1769,y1:yPrice(p),y2:yPrice(p),stroke:axisColor,'stroke-width':1.2});
  
  
  const l=add(mainAxisClip,'text',{x:1777,y:yPrice(p)+7.5,'font-size':19.5,fill:axisColor,textLength:49,lengthAdjust:'spacingAndGlyphs'},p.toFixed(3));
  
  
});
const flowAxis=add(axisG,'g',{'clip-path':'url(#clipFlowAxis)'});


flowTicks.forEach(function(v,i){
  const t=add(flowAxis,'line',{x1:1764,x2:1769,y1:yFlow(v),y2:yFlow(v),stroke:axisColor,'stroke-width':1.2});
  
  
  const l=add(flowAxis,'text',{x:1777,y:yFlow(v)+8,'font-size':19.5,fill:axisColor},flowTickLabels[i]);
  
  
});
oscTicks.forEach(function(v){
  const t=add(axisG,'line',{x1:1764,x2:1769,y1:yOsc(v),y2:yOsc(v),stroke:axisColor,'stroke-width':1.2});
  
  
  const s=v.toFixed(3);
  const l=add(axisG,'text',{x:1777,y:yOsc(v)+8.2,'font-size':19.5,fill:axisColor,textLength:v===100?69:49,lengthAdjust:'spacingAndGlyphs'},s);
  
  
});
momTicks.forEach(function(v){
  const t=add(axisG,'line',{x1:1764,x2:1769,y1:yMom(v),y2:yMom(v),stroke:axisColor,'stroke-width':1.2});
  
  
  const l=add(axisG,'text',{x:1777,y:yMom(v)+8,'font-size':19.5,fill:axisColor,textLength:49,lengthAdjust:'spacingAndGlyphs'},v.toFixed(3));
  
  
});
timeTickDays.forEach(function(d,i){
  const t=add(axisG,'line',{x1:xDay(d),x2:xDay(d),y1:1351,y2:1356,stroke:axisColor,'stroke-width':1.2});
  
  
  const l=add(axisG,'text',{x:xDay(d),y:1379,'font-size':19.5,fill:axisColor,'text-anchor':'middle'},timeTickLabels[i]);
  
  
});
dateBoxDays.forEach(function(d,i){
  const cx=xDay(d)+ (i===0?57:0);
  const hw=54;
  const left=i===0?6.7:cx-hw;
  const b=add(axisG,'rect',{x:left,y:1351.5,width:i===0?108.3:108,height:35.5,fill:'#a4c2f4'});
  
  
  const l=add(axisG,'text',{x:i===0?60:cx,y:1377.5,'font-size':19.5,fill:'#131722','text-anchor':'middle',textLength:78,lengthAdjust:'spacingAndGlyphs'},dateBoxLabels[i]);
  
  
});

/* italic level labels */
italicLabels.forEach(function(p){
  const l=add(axisG,'text',{x:1756,y:yPrice(p)+6,'font-size':17,'font-style':'italic',fill:'#222222','text-anchor':'end',textLength:46,lengthAdjust:'spacingAndGlyphs'},p.toFixed(3));
  
  
});

/* price tags */
const tagColors=['#0000ff','#4a86e8','#8b0000','#000000','#ff0000','#8b0000'];
tagPrices.forEach(function(p,i){
  const cy=yPrice(p)+0.7;
  const r=add(axisG,'rect',{x:1764,y:cy-14.4,width:72.7,height:28.8,rx:1.5,fill:tagColors[i]});
  
  
  const tick=add(axisG,'line',{x1:1764,x2:1769,y1:yPrice(p),y2:yPrice(p),stroke:'#ffffff','stroke-width':1.2});
  
  
  const l=add(axisG,'text',{x:1777.5,y:cy+7.5,'font-size':19.5,'font-weight':700,fill:'#ffffff',textLength:50,lengthAdjust:'spacingAndGlyphs'},p.toFixed(3));
  
  
});
const lastY=yPrice(lastPrice);
const lastBox=add(axisG,'rect',{x:1764,y:lastY-14,width:100.5,height:51.7,rx:1.5,fill:'#ef5350'});


const lastText=add(axisG,'text',{x:1778,y:lastY+9,'font-size':19.5,'font-weight':700,fill:'#ffffff',textLength:48,lengthAdjust:'spacingAndGlyphs'},lastPrice.toFixed(3));


const countText=add(axisG,'text',{x:1778,y:lastY+32,'font-size':19.5,fill:'#fbdcdc',textLength:78,lengthAdjust:'spacingAndGlyphs'},lastPriceCountdown);


</script>
</body>
</html>
